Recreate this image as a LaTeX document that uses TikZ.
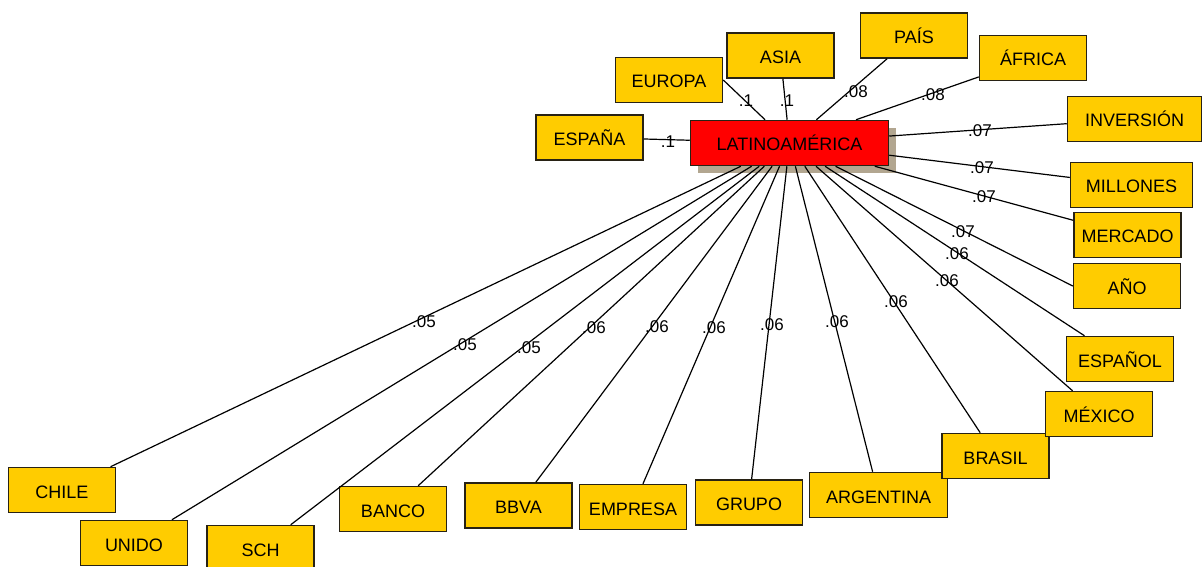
\documentclass[tikz,border=0pt]{standalone}
\usepackage{fontspec}
\setmainfont{Liberation Sans}
\usetikzlibrary{shadows}
\definecolor{boxgold}{RGB}{255,204,0}
\definecolor{boxedge}{RGB}{40,34,20}
\definecolor{shadowtan}{RGB}{178,166,144}
\begin{document}
\begin{tikzpicture}[x=1pt,y=-1pt,
  term/.style={draw=boxedge, fill=boxgold, line width=1.5pt, minimum width=107pt,
    minimum height=45pt, inner sep=0pt, text height=16pt, text depth=0pt,
    font=\fontsize{18}{20}\selectfont, anchor=center},
  hub/.style={term, fill=red, minimum width=198pt,
    drop shadow={shadow xshift=7.5pt, shadow yshift=-8pt, fill=shadowtan, opacity=1}},
  link/.style={line width=1.2pt, black},
  wt/.style={font=\fontsize{17}{19}\selectfont, inner sep=0pt, text height=12pt, text depth=0pt}]
\useasboundingbox (0,0) rectangle (1203,567);
\clip (0,0) rectangle (1203,567);

% hub
\node[hub] (lat) at (789.5,143) {LATINOAMÉRICA};

% outer terms
\node[term] (espana) at (589.5,137.5) {ESPAÑA};
\node[term] (europa) at (669,80) {EUROPA};
\node[term] (asia) at (780.5,55.5) {ASIA};
\node[term] (pais) at (914,35.5) {PAÍS};
\node[term] (africa) at (1033,58) {ÁFRICA};
\node[term, minimum width=134pt] (inversion) at (1134.5,119) {INVERSIÓN};
\node[term, minimum width=122pt] (millones) at (1131.5,185) {MILLONES};
\node[term] (mercado) at (1127.5,235) {MERCADO};
\node[term] (ano) at (1127,286) {AÑO};
\node[term] (espanol) at (1120,359) {ESPAÑOL};
\node[term, minimum width=138pt] (argentina) at (878.5,495) {ARGENTINA};
\node[term] (brasil) at (995.5,456) {BRASIL};
\node[term] (mexico) at (1099,414) {MÉXICO};
\node[term] (grupo) at (749,502.5) {GRUPO};
\node[term] (empresa) at (633,507) {EMPRESA};
\node[term] (bbva) at (518.5,505.5) {BBVA};
\node[term] (banco) at (393,509) {BANCO};
\node[term] (sch) at (260.5,548) {SCH};
\node[term] (unido) at (134,543) {UNIDO};
\node[term] (chile) at (62,490) {CHILE};

% connectors
\draw[link] (lat) -- (espana);
\draw[link] (lat) -- (europa.east);
\draw[link] (lat) -- (asia);
\draw[link] (lat) -- (pais);
\draw[link] (lat) -- (africa);
\draw[link] (lat) -- (inversion);
\draw[link] (lat) -- (millones);
\draw[link] (lat) -- (mercado);
\draw[link] (lat) -- (ano.west);
\draw[link] (lat) -- (espanol);
\draw[link] (lat) -- (mexico);
\draw[link] (lat) -- (brasil);
\draw[link] (lat) -- (argentina);
\draw[link] (lat) -- (grupo);
\draw[link] (lat) -- (empresa);
\draw[link] (lat) -- (bbva);
\draw[link] (lat) -- (banco);
\draw[link] (lat) -- (sch);
\draw[link] (lat) -- (unido);
\draw[link] (lat) -- (chile);

% weights
\node[wt] (w-espana) at (668,142) {.1};
\node[wt] (w-europa) at (746,101) {.1};
\node[wt] (w-asia) at (787,101) {.1};
\node[wt] (w-pais) at (856,92) {.08};
\node[wt] (w-africa) at (933,95) {.08};
\node[wt] (w-inversion) at (980,131) {.07};
\node[wt] (w-millones) at (982,168) {.07};
\node[wt] (w-mercado) at (984,197) {.07};
\node[wt] (w-ano) at (963,231) {.07};
\node[wt] (w-espanol) at (957,253) {.06};
\node[wt] (w-mexico) at (947,280) {.06};
\node[wt] (w-brasil) at (896,301) {.06};
\node[wt] (w-argentina) at (837,321) {.06};
\node[wt] (w-grupo) at (772,324) {.06};
\node[wt] (w-empresa) at (714,327) {.06};
\node[wt] (w-bbva) at (657,326) {.06};
\node[wt] (w-banco) at (594,327) {.06};
\node[wt] (w-sch) at (529,347) {.05};
\node[wt] (w-unido) at (465,344) {.05};
\node[wt] (w-chile) at (424,321) {.05};
\end{tikzpicture}
\end{document}
